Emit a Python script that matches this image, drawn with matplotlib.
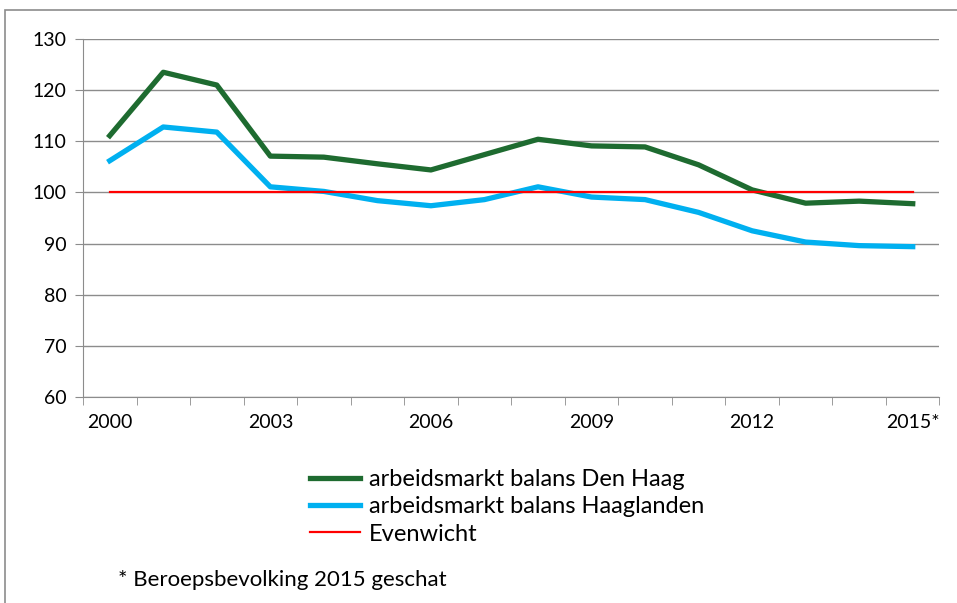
import numpy as np
import matplotlib.pyplot as plt
from matplotlib.patches import Rectangle

plt.rcParams['font.family'] = ['Lato', 'DejaVu Sans']
plt.rcParams['font.size'] = 14

def datos_balans():
    jaren = ['2000', '2001', '2002', '2003', '2004', '2005', '2006', '2007',
             '2008', '2009', '2010', '2011', '2012', '2013', '2014', '2015*']
    den_haag = [111.1, 123.5, 121.0, 107.1, 106.9, 105.6, 104.4, 107.4,
                110.4, 109.1, 108.9, 105.4, 100.5, 97.9, 98.3, 97.8]
    haaglanden = [106.2, 112.8, 111.8, 101.1, 100.2, 98.4, 97.4, 98.6,
                  101.1, 99.1, 98.6, 96.1, 92.5, 90.3, 89.6, 89.4]
    evenwicht = [100] * len(jaren)
    return jaren, den_haag, haaglanden, evenwicht

def graficar_balans(jaren, den_haag, haaglanden, evenwicht):
    fig = plt.figure(figsize=(9.57, 6.03), dpi=100)
    ax = fig.add_axes([0.0867, 0.3416, 0.895, 0.5937])

    # marco gris del grafico
    marco = Rectangle((5 / 957, -0.2), 1.2, 1 - 10 / 603 + 0.2, transform=fig.transFigure,
                      fill=False, edgecolor='#8c8c8c', linewidth=1.2, clip_on=False)
    fig.patches.append(marco)

    x = np.arange(len(jaren))
    ax.plot(x, den_haag, color='#1e6b30', linewidth=3.8, label='arbeidsmarkt balans Den Haag')
    ax.plot(x, haaglanden, color='#00b0f0', linewidth=3.8, label='arbeidsmarkt balans Haaglanden')
    ax.plot(x, evenwicht, color='#ff0000', linewidth=1.6, label='Evenwicht')

    ax.set_xlim(-0.5, len(jaren) - 0.5)
    ax.set_ylim(60, 130)
    ax.set_yticks(range(60, 131, 10))
    ax.set_xticks(x[::3])
    ax.set_xticklabels(jaren[::3])
    ax.set_xticks(np.arange(-0.5, len(jaren), 1), minor=True)
    ax.tick_params(axis='x', which='major', length=0, pad=12)
    ax.tick_params(axis='x', which='minor', length=6, color='#8c8c8c')
    ax.tick_params(axis='y', length=6, color='#8c8c8c', pad=6)
    ax.grid(True, axis='y', color='#8c8c8c', linewidth=1)
    ax.set_axisbelow(True)
    for lado in ['top', 'right']:
        ax.spines[lado].set_visible(False)
    ax.spines['left'].set_color('#8c8c8c')
    ax.spines['bottom'].set_color('#8c8c8c')

    ax.legend(loc='upper left', bbox_to_anchor=(310 / 957, 1 - 469 / 603),
              bbox_transform=fig.transFigure, frameon=False, borderpad=0, fontsize=17,
              borderaxespad=0, handlelength=2.1, handletextpad=0.4, labelspacing=0.27)
    fig.text(118 / 957, 1 - 580 / 603, '* Beroepsbevolking 2015 geschat', va='center', fontsize=16)

    fig.savefig('out.png', dpi=100)

jaren, den_haag, haaglanden, evenwicht = datos_balans()
graficar_balans(jaren, den_haag, haaglanden, evenwicht)
